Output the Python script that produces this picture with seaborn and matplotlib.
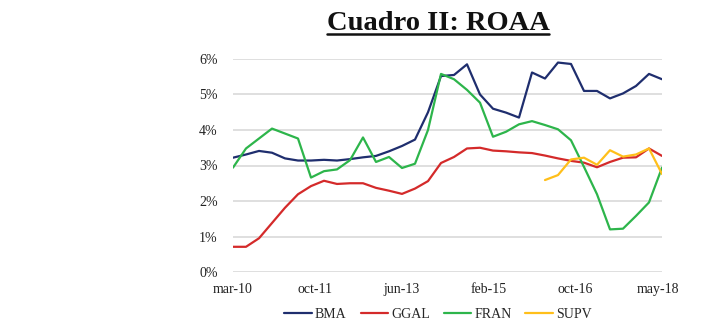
import numpy as np
import pandas as pd
import seaborn as sns
import matplotlib.pyplot as plt
from matplotlib.lines import Line2D

# months since mar-10 for each quarterly observation
months = list(range(0, 100, 3))  # 34 quarters: mar-10 ... jun-18

bma = [3.22, 3.31, 3.41, 3.36, 3.20, 3.14, 3.14, 3.16, 3.14, 3.18, 3.23, 3.27,
       3.40, 3.55, 3.73, 4.50, 5.52, 5.55, 5.85, 5.00, 4.60, 4.49, 4.35, 5.62,
       5.45, 5.90, 5.86, 5.10, 5.10, 4.89, 5.03, 5.24, 5.58, 5.43]
ggal = [0.71, 0.71, 0.95, 1.38, 1.81, 2.19, 2.42, 2.57, 2.48, 2.50, 2.50, 2.37,
        2.29, 2.20, 2.35, 2.56, 3.07, 3.24, 3.48, 3.50, 3.42, 3.40, 3.37, 3.35,
        3.28, 3.20, 3.13, 3.08, 2.95, 3.10, 3.22, 3.23, 3.48, 3.27]
fran = [2.94, 3.48, 3.76, 4.04, 3.90, 3.76, 2.66, 2.84, 2.89, 3.15, 3.79, 3.10,
        3.24, 2.93, 3.05, 4.00, 5.58, 5.43, 5.13, 4.77, 3.81, 3.95, 4.16, 4.25,
        4.14, 4.02, 3.71, 2.96, 2.19, 1.20, 1.22, 1.58, 1.96, 2.94]
supv = [np.nan] * 24 + [2.59, 2.73, 3.17, 3.22, 3.02, 3.43, 3.25, 3.31, 3.48, 2.76]

series_names = ["BMA", "GGAL", "FRAN", "SUPV"]
colors = ["#1F2E6E", "#D42A2A", "#2DB54B", "#FFBF1A"]

tick_pos = [0, 19, 39, 59, 79, 98]
tick_labels = ["mar-10", "oct-11", "jun-13", "feb-15", "oct-16", "may-18"]
y_ticks = [0, 1, 2, 3, 4, 5, 6]

frames = []
for name, vals in zip(series_names, [bma, ggal, fran, supv]):
    frames.append(pd.DataFrame({"mes": months, "roaa": np.array(vals) / 100.0, "serie": name}))
df = pd.concat(frames, ignore_index=True).dropna()

sns.set_theme(style="white")
plt.rcParams["font.family"] = ["Liberation Serif", "DejaVu Serif"]

fig = plt.figure(figsize=(7.02, 3.36), dpi=100)
ax = fig.add_axes([233 / 702, 1 - 272 / 336, (662 - 233) / 702, (272 - 59) / 336])

sns.lineplot(data=df, x="mes", y="roaa", hue="serie", hue_order=series_names,
             palette=colors, linewidth=1.6, ax=ax, legend=False, sort=False)

ax.set_xlim(0, 99)
ax.set_ylim(0, 0.06)
ax.set_yticks([v / 100 for v in y_ticks])
ax.set_yticklabels([f"{v}%" for v in y_ticks], fontsize=10, color="#222222")
ax.set_xticks(tick_pos)
ax.set_xticklabels(tick_labels, fontsize=10, color="#222222")
ax.tick_params(axis="both", length=0)
ax.tick_params(axis="x", pad=8)
ax.tick_params(axis="y", pad=11)
ax.grid(axis="y", color="#D9D9D9", linewidth=1.2)
ax.grid(axis="x", visible=False)
for s in ax.spines.values():
    s.set_visible(False)
ax.set_xlabel("")
ax.set_ylabel("")

handles = [Line2D([0], [0], color=c, linewidth=1.6) for c in colors]
fig.legend(handles, series_names, loc="center", bbox_to_anchor=(438 / 702, 1 - 314 / 336),
           ncol=4, frameon=False, fontsize=10, handlelength=2.0, handletextpad=0.2,
           columnspacing=1.0)

title = fig.text(438 / 702, 1 - 30.5 / 336, "Cuadro II: ROAA", ha="center", va="baseline",
                 fontsize=20.5, fontweight="bold", color="#111111")
fig.canvas.draw()
bb = title.get_window_extent()
inv = fig.transFigure.inverted()
(x0, y0), (x1, y1) = inv.transform([(bb.x0, bb.y0), (bb.x1, bb.y1)])
uy = 1 - 34 / 336
fig.add_artist(Line2D([x0, x1], [uy, uy], transform=fig.transFigure, color="#111111", linewidth=1.8))

fig.savefig("out.png", dpi=100, facecolor="white")
